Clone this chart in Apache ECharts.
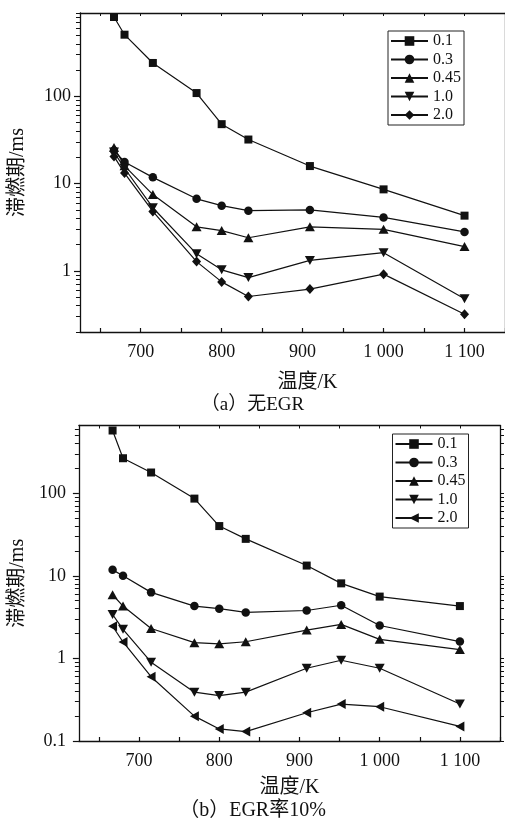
<!DOCTYPE html>
<html>
<head>
<meta charset="utf-8">
<script src="https://cdn.jsdelivr.net/npm/echarts@6/dist/echarts.min.js"></script>
<style>
html, body { margin: 0; padding: 0; background: #fff; }
#main { width: 505px; height: 826px; }
</style>
</head>
<body>
<div id="main"></div>
<script>
// 温度 / K
var tempA = [667, 680, 715, 769, 800, 833, 909, 1000, 1100];
var tempB = [667, 680, 715, 769, 800, 833, 909, 952, 1000, 1100];
var phiNames = ['0.1', '0.3', '0.45', '1.0', '2.0'];

// (a) 无EGR, 滞燃期 ms
var a01 = [810, 508, 241, 109, 48, 32, 15.9, 8.6, 4.3];
var a03 = [24, 17.7, 11.8, 6.7, 5.6, 4.9, 5.0, 4.1, 2.8];
var a045 = [26, 16, 7.5, 3.2, 2.9, 2.4, 3.2, 3.0, 1.9];
var a10 = [23, 15, 5.3, 1.57, 1.03, 0.84, 1.32, 1.62, 0.48];
var a20 = [20.5, 13.2, 4.8, 1.28, 0.75, 0.51, 0.62, 0.92, 0.32];

// (b) EGR率10%
var b01 = [574, 265, 178, 86, 40, 28, 13.3, 8.1, 5.6, 4.3];
var b03 = [11.8, 10, 6.3, 4.3, 4.0, 3.6, 3.8, 4.4, 2.5, 1.6];
var b045 = [5.9, 4.3, 2.3, 1.55, 1.5, 1.59, 2.2, 2.58, 1.7, 1.28];
var b10 = [3.4, 2.25, 0.9, 0.39, 0.355, 0.39, 0.76, 0.95, 0.76, 0.28];
var b20 = [2.45, 1.58, 0.6, 0.2, 0.14, 0.13, 0.22, 0.28, 0.26, 0.15];

// ticks
var xTicks = [650, 700, 750, 800, 850, 900, 950, 1000, 1050, 1100, 1150];
var xLabels = [700, 800, 900, 1000, 1100];
var yLabelsA = [1, 10, 100];
var yLabelsB = [0.1, 1, 10, 100];
var yMinorA = [0.2, 0.3, 0.4, 0.5, 0.6, 0.7, 0.8, 0.9, 2, 3, 4, 5, 6, 7, 8, 9,
  20, 30, 40, 50, 60, 70, 80, 90, 200, 300, 400, 500, 600, 700, 800, 900];
var yMinorB = [0.2, 0.3, 0.4, 0.5, 0.6, 0.7, 0.8, 0.9, 2, 3, 4, 5, 6, 7, 8, 9,
  20, 30, 40, 50, 60, 70, 80, 90, 200, 300, 400, 500, 600];

var ink = '#111';
var serif = "'Liberation Serif', 'Noto Sans CJK SC', serif";
var symDown = 'path://M0,0L20,0L10,18Z';
var symLeft = 'path://M18,0L18,20L0,10Z';

function fmtK(v) {
  return v >= 1000 ? Math.floor(v / 1000) + ' ' + String(v % 1000).padStart(3, '0') : String(v);
}

function line(name, temps, vals, symbol, size, idx) {
  return {
    type: 'line',
    name: name,
    xAxisIndex: idx * 2,
    yAxisIndex: idx * 3,
    data: temps.map(function (t, i) { return [t, vals[i]]; }),
    symbol: symbol,
    symbolSize: size,
    showSymbol: true,
    lineStyle: { color: ink, width: 1.2 },
    itemStyle: { color: ink },
    animation: false
  };
}

function xAxes(gi, nameGap, namePad) {
  return [{
    gridIndex: gi, type: 'value', min: 625, max: 1150, position: 'bottom',
    axisLine: { lineStyle: { color: ink, width: 1.3 } },
    axisTick: { inside: true, length: 4, customValues: xTicks, lineStyle: { color: ink, width: 1.2 } },
    axisLabel: { customValues: xLabels, formatter: fmtK, margin: 11, fontSize: 18, color: ink, fontFamily: serif },
    splitLine: { show: false },
    name: '温度/K', nameLocation: 'middle', nameGap: nameGap,
    nameTextStyle: { fontSize: 20, color: ink, fontFamily: serif, padding: namePad }
  }, {
    gridIndex: gi, type: 'value', min: 625, max: 1150, position: 'top',
    axisLine: { lineStyle: { color: ink, width: 1.3 } },
    axisTick: { inside: true, length: 3, customValues: xTicks, lineStyle: { color: ink } },
    axisLabel: { show: false },
    splitLine: { show: false }
  }];
}

function yAxes(gi, min, max, labels, minor, nameGap, labelMargin) {
  return [{
    gridIndex: gi, type: 'log', logBase: 10, min: min, max: max, position: 'left',
    axisLine: { show: true, lineStyle: { color: ink, width: 1.3 } },
    axisTick: { show: true, length: 6, customValues: labels, lineStyle: { color: ink, width: 1.2 } },
    axisLabel: { customValues: labels, formatter: function (v) { return String(v); },
      margin: labelMargin, fontSize: 18, color: ink, fontFamily: serif },
    splitLine: { show: false },
    name: '滞燃期/ms', nameLocation: 'middle', nameGap: nameGap, nameRotate: 90,
    nameTextStyle: { fontSize: 20, color: ink, fontFamily: serif }
  }, {
    gridIndex: gi, type: 'log', logBase: 10, min: min, max: max, position: 'left',
    axisLine: { show: false },
    axisTick: { show: true, length: 4, customValues: minor, lineStyle: { color: ink } },
    axisLabel: { show: false },
    splitLine: { show: false }
  }, {
    gridIndex: gi, type: 'log', logBase: 10, min: min, max: max, position: 'right',
    axisLine: { show: true, lineStyle: { color: ink, width: 1.3 } },
    axisTick: { show: true, length: 4, customValues: labels.concat(minor), lineStyle: { color: ink } },
    axisLabel: { show: false },
    splitLine: { show: false }
  }];
}

var legendBase = {
  orient: 'vertical',
  itemWidth: 37,
  itemHeight: 12,
  itemGap: 0.5,
  borderColor: '#222',
  borderWidth: 1,
  borderRadius: 0,
  selectedMode: false,
  textStyle: { fontSize: 16, lineHeight: 18, color: ink, fontFamily: serif },
  formatter: function (n) { return n.replace('b:', ''); }
};

var chart = echarts.init(document.getElementById('main'), null, { renderer: 'canvas' });
chart.setOption({
  animation: false,
  backgroundColor: '#fff',
  grid: [
    { left: 77, top: 13, width: 430, height: 319 },
    { left: 76.5, top: 425.5, width: 423.5, height: 315.5 }
  ],
  xAxis: xAxes(0, 41, [0, 0, 0, 30]).concat(xAxes(1, 37, 0)),
  yAxis: yAxes(0, 0.2, 900, yLabelsA, yMinorA, 52, 9).concat(yAxes(1, 0.1, 660, yLabelsB, yMinorB, 44, 13)),
  legend: [
    Object.assign({}, legendBase, { left: 388, top: 31, padding: [1, 3, 1, 2], data: phiNames }),
    Object.assign({}, legendBase, { left: 392.5, top: 434, padding: [1, 3, 1, 2],
      data: phiNames.map(function (n) { return 'b:' + n; }) })
  ],
  graphic: [
    { type: 'text', left: 'center', top: 396, style: { text: '（a）无EGR', font: '19px ' + serif, fill: ink }, x: -8 },
    { type: 'text', left: 'center', top: 801, style: { text: '（b）EGR率10%', font: '20px ' + serif, fill: ink } }
  ],
  series: [
    line('0.1', tempA, a01, 'rect', 8, 0),
    line('0.3', tempA, a03, 'circle', 8.5, 0),
    line('0.45', tempA, a045, 'triangle', [10, 9], 0),
    line('1.0', tempA, a10, symDown, [10, 9], 0),
    line('2.0', tempA, a20, 'diamond', [9, 10], 0),
    line('b:0.1', tempB, b01, 'rect', 8, 1),
    line('b:0.3', tempB, b03, 'circle', 8.5, 1),
    line('b:0.45', tempB, b045, 'triangle', [10, 9], 1),
    line('b:1.0', tempB, b10, symDown, [10, 9], 1),
    line('b:2.0', tempB, b20, symLeft, [9, 10], 1)
  ]
});
</script>
</body>
</html>
